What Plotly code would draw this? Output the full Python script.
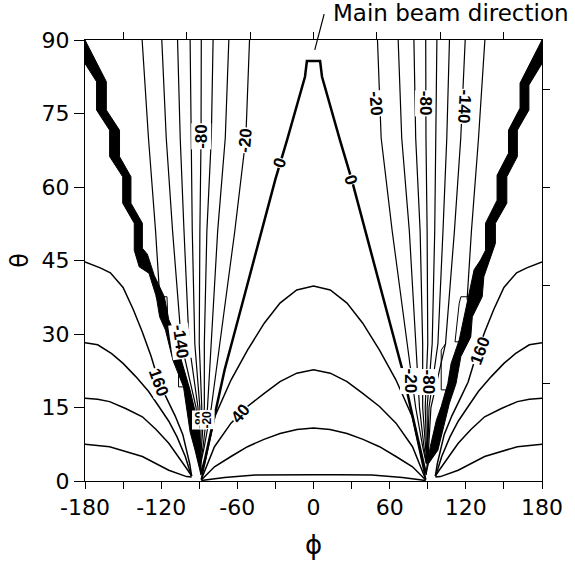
import plotly.graph_objects as go

# ---------------- contour traces (phi, theta in degrees) ----------------
# Upper fan of phase contours on the negative-phi side; the positive side mirrors it.
FAN_THETA = [90, 70, 51, 28, 15, 7, 3.6]
PHI_M20 = [-50.4, -53.3, -62.0, -73.5, -80.5, -86.0, -88.8]
PHI_M40 = [-66.7, -69.5, -75.5, -80.5, -83.5, -87.0, -89.0]
PHI_M60 = [-79.1, -80.5, -84.0, -86.0, -86.0, -88.0, -89.2]
PHI_M80 = [-88.4, -88.6, -89.5, -90.0, -88.0, -89.0, -89.4]
PHI_M100 = [-97.2, -96.5, -95.5, -93.5, -89.5, -89.8, -89.6]
PHI_M120 = [-107.1, -105.0, -102.0, -98.0, -91.0, -90.2, -89.8]
PHI_M140 = [-119.5, -116.0, -111.0, -104.0, -92.5, -90.6, -90.0]
PHI_M160 = [-135.0, -130.0, -124.4, -122.0, -121.0]
THETA_M160 = [90, 70, 51, 40, 37.0]

# The 0-degree contour (left half; mirrored for the right half)
ZERO_PHI = [-88.5, -85.6, -76.5, -70.0, -60.0, -50.0, -40.0, -30.0, -20.9, -13.2, -6.7, -5.2]
ZERO_THETA = [1.5, 4.3, 15.0, 22.7, 32.4, 42.2, 51.9, 61.6, 69.5, 76.4, 82.5, 85.7]

# Arches between the two singular points (left half; mirrored)
ARCH20_PHI = [-88.4, -83.0, -77.8, -65.0, -52.0, -38.8, -26.4, -13.2, 0.0]
ARCH20_THETA = [0.3, 6.8, 13.1, 20.6, 26.7, 32.2, 36.3, 39.0, 39.8]
ARCH40_PHI = [-88.4, -78.0, -65.0, -52.0, -38.8, -26.4, -13.2, 0.0]
ARCH40_THETA = [0.3, 7.0, 11.8, 15.2, 17.9, 20.3, 22.0, 22.7]
ARCH60_PHI = [-88.4, -78.0, -65.0, -52.0, -39.0, -26.4, -13.0, 0.0]
ARCH60_THETA = [0.2, 2.9, 5.0, 7.0, 8.5, 9.7, 10.5, 10.8]
ARCH80_PHI = [-88.4, -70.0, -46.0, -20.0, 0.0]
ARCH80_THETA = [0.1, 0.7, 1.2, 1.3, 1.3]

# Outer contours beyond |phi| = 90 (left side; mirrored)
OUT160_PHI = [-180, -168, -160, -150, -142, -135, -128, -121.8, -115, -109, -103, -99.5, -97.5, -96]
OUT160_THETA = [44.7, 43.5, 42.5, 39.5, 35.0, 30.5, 25.5, 20.2, 16.5, 13.3, 9.5, 6.0, 3.5, 1.0]
OUT140_PHI = [-180, -170, -159, -150, -140, -130, -121.8, -114, -107.5, -101, -98, -96]
OUT140_THETA = [28.2, 27.8, 26.0, 24.0, 21.3, 18.3, 15.2, 12.2, 9.0, 5.0, 2.5, 1.0]
OUT120_PHI = [-180, -170, -160.6, -148, -134.8, -124, -114, -104, -99, -96]
OUT120_THETA = [16.9, 16.7, 16.2, 14.8, 13.1, 10.5, 7.7, 4.2, 2.2, 1.0]
OUT100_PHI = [-180, -160.6, -134.8, -114, -100, -96]
OUT100_THETA = [7.5, 7.0, 5.0, 2.2, 0.9, 0.8]

# Short contour pieces running along the phase-wrap band
LHUG1_PHI = [-124.4, -115.4, -114.8, -114.1]
LHUG1_THETA = [37.6, 37.6, 33.0, 28.8]
LHUG2_PHI = [-106.3, -106.3, -99.9]
LHUG2_THETA = [26.1, 19.2, 19.2]
RHUG1_PHI = [125.1, 116.1, 114.8, 111.5, 116.1]
RHUG1_THETA = [37.6, 37.6, 36.3, 28.4, 28.4]
RHUG2_PHI = [104.0, 100.6, 100.6, 105.8]
RHUG2_THETA = [28.0, 26.7, 18.6, 18.6]

# Phase-wrap (+/-180) bands, where the contours pile up into a solid staircase
LBAND_PHI = [-180, -180, -170.9, -170.9, -160.6, -160.6, -150.3, -150.3, -141.2, -141.2,
             -137.3, -129.6, -123.8, -121.2, -116.6, -110.8, -102.4, -100.5, -97.2, -93.3,
             -90.8, -88.6,
             -88.5, -90.0, -93.5, -97.2, -104.5, -110.5, -114.1, -117.5, -125.5, -130.9,
             -134.8, -134.8, -143.8, -143.8, -152.8, -152.8, -163.2, -163.2, -180]
LBAND_THETA = [90, 85.2, 81.5, 75.7, 71.6, 66.2, 62.1, 56.7, 52.6, 47.1,
               43.7, 42.4, 37.6, 33.5, 30.8, 24.7, 19.2, 15.5, 10.0, 6.3,
               3.6, 1.2,
               5.0, 10.5, 14.5, 18.5, 25.0, 30.8, 33.0, 37.6, 42.0, 46.3,
               47.5, 52.6, 56.7, 62.1, 66.2, 71.6, 75.7, 81.5, 90]
RBAND_PHI = [180, 162.7, 162.7, 153.6, 153.6, 144.6, 144.6, 135.5, 135.5, 131.6,
             126.5, 118.7, 114.8, 108.4, 105.8, 100.6, 96.8, 92.0, 89.5, 88.6,
             90.5, 98.0, 103.2, 107.1, 112.3, 116.1, 123.9, 125.1, 132.9, 134.2,
             143.3, 143.3, 152.3, 152.3, 160.6, 160.6, 169.7, 169.7, 180, 180]
RBAND_THETA = [90, 81.2, 76.1, 71.6, 66.9, 62.4, 57.3, 52.6, 47.1, 45.1,
               43.1, 33.5, 28.8, 24.0, 19.9, 15.2, 12.4, 7.0, 3.5, 1.2,
               3.5, 6.3, 11.8, 15.9, 19.9, 25.4, 29.4, 33.5, 37.6, 41.7,
               48.5, 52.6, 56.7, 62.1, 66.2, 71.6, 75.7, 80.8, 85.2, 90]

# Contour labels
LABEL_TEXT = ["-80", "-20", "0", "0", "-20", "-80", "-140", "-140", "160", "160", "40",
              "-20", "-80", "-80", "-20"]
LABEL_PHI = [-88.4, -53.3, -26.4, 29.5, 48.9, 87.7, 118.7, -105.0, -121.8, 131.0, -57.4,
             76.0, 90.2, -90.0, -84.0]
LABEL_THETA = [70.3, 69.6, 65.0, 61.4, 77.0, 77.0, 76.4, 28.4, 20.2, 26.5, 13.8,
               20.3, 20.3, 12.5, 12.5]
LABEL_ANGLE = [-90, -85, -73, 73, 85, 90, 93, 82, 70, -70, -50, 90, 90, -90, -90]

X_TICKS = list(range(-180, 181, 30))
X_TICKTEXT = [str(v) if v % 60 == 0 else "" for v in X_TICKS]
X_TOP_TICKS = list(range(-150, 151, 50))
Y_TICKS = list(range(0, 91, 15))
Y_RIGHT_TICKS = [20, 40, 60, 80]

# beam pointer: from the beam tip up to the caption
BEAM_TIP = (1.0, 88.0)
BEAM_CAPTION_AT = (8.7, 95.6)


def mirror(phis):
    return [-p for p in phis]


fig = go.Figure()


def add_line(phis, thetas, width=1.2):
    fig.add_trace(go.Scatter(x=phis, y=thetas, mode="lines",
                             line=dict(color="black", width=width),
                             hoverinfo="skip", showlegend=False))


# wrap bands
for bp, bt in ((LBAND_PHI, LBAND_THETA), (RBAND_PHI, RBAND_THETA)):
    fig.add_trace(go.Scatter(x=bp, y=bt, mode="lines", fill="toself",
                             fillcolor="black", line=dict(color="black", width=1),
                             hoverinfo="skip", showlegend=False))

# upper fan, both sides
for ph in (PHI_M20, PHI_M40, PHI_M60, PHI_M80, PHI_M100, PHI_M120, PHI_M140):
    add_line(ph, FAN_THETA)
    add_line(mirror(ph), FAN_THETA)
add_line(PHI_M160, THETA_M160)
add_line(mirror(PHI_M160), THETA_M160)

# zero contour
add_line(ZERO_PHI + mirror(ZERO_PHI)[::-1], ZERO_THETA + ZERO_THETA[::-1], width=2.5)

# arches
for ap, at in ((ARCH20_PHI, ARCH20_THETA), (ARCH40_PHI, ARCH40_THETA),
               (ARCH60_PHI, ARCH60_THETA), (ARCH80_PHI, ARCH80_THETA)):
    add_line(ap + mirror(ap[:-1])[::-1], at + at[:-1][::-1], width=1.5)

# outer curves
for op, ot in ((OUT160_PHI, OUT160_THETA), (OUT140_PHI, OUT140_THETA),
               (OUT120_PHI, OUT120_THETA), (OUT100_PHI, OUT100_THETA)):
    add_line(op, ot, width=1.5)
    add_line(mirror(op), ot, width=1.5)

# pieces along the bands
for hp, ht in ((LHUG1_PHI, LHUG1_THETA), (LHUG2_PHI, LHUG2_THETA),
               (RHUG1_PHI, RHUG1_THETA), (RHUG2_PHI, RHUG2_THETA)):
    add_line(hp, ht, width=1.0)

# secondary axes (top and right frame ticks)
fig.add_trace(go.Scatter(x=[None], y=[None], xaxis="x2", yaxis="y2",
                         showlegend=False, hoverinfo="skip"))

annotations = []
for txt, p, t, a in zip(LABEL_TEXT, LABEL_PHI, LABEL_THETA, LABEL_ANGLE):
    small = abs(p + 87) < 5 and t < 15
    annotations.append(dict(
        x=p, y=t, xref="x", yref="y", text="<b>%s</b>" % txt, showarrow=False,
        textangle=a, bgcolor="white", borderpad=0,
        font=dict(family="Liberation Sans", size=12 if small else 17, color="black")))

# main beam pointer and caption (caption sits above the frame, so its height is
# given as a fraction of the 0..90 axis span)
annotations.append(dict(x=BEAM_TIP[0], y=BEAM_TIP[1], xref="x", yref="y",
                        ax=BEAM_CAPTION_AT[0], ay=BEAM_CAPTION_AT[1],
                        axref="x", ayref="y", text="", showarrow=True,
                        arrowhead=0, arrowwidth=1.2, arrowcolor="black"))
annotations.append(dict(x=BEAM_CAPTION_AT[0] + 5.2, y=BEAM_CAPTION_AT[1] / 90.0,
                        xref="x", yref="paper", text="Main beam direction",
                        showarrow=False, xanchor="left", yanchor="middle",
                        font=dict(family="DejaVu Sans", size=23, color="black")))

tick_font = dict(family="DejaVu Sans", size=22, color="black")

fig.update_layout(
    width=575, height=576, autosize=False,
    margin=dict(l=85, r=26, t=40, b=95),
    paper_bgcolor="white", plot_bgcolor="white",
    showlegend=False,
    annotations=annotations,
    xaxis=dict(range=[-180, 180], tickvals=X_TICKS, ticktext=X_TICKTEXT,
               ticks="outside", ticklen=7, tickwidth=1, tickcolor="black",
               showline=True, linecolor="black", linewidth=1, showgrid=False,
               zeroline=False, tickfont=tick_font,
               title=dict(text="ϕ", font=dict(family="DejaVu Sans", size=26, color="black"),
                          standoff=16)),
    yaxis=dict(range=[0, 90], tickvals=Y_TICKS, ticks="outside", ticklen=10,
               tickwidth=1, tickcolor="black", showline=True, linecolor="black",
               linewidth=1, showgrid=False, zeroline=False, tickfont=tick_font,
               title=dict(text="θ", font=dict(family="DejaVu Sans", size=24, color="black"),
                          standoff=6)),
    xaxis2=dict(range=[-180, 180], overlaying="x", side="top", tickvals=X_TOP_TICKS,
                ticks="outside", ticklen=7, tickwidth=1, tickcolor="black",
                showticklabels=False, showline=True, linecolor="black", linewidth=1,
                showgrid=False, zeroline=False),
    yaxis2=dict(range=[0, 90], overlaying="y", side="right", tickvals=Y_RIGHT_TICKS,
                ticks="outside", ticklen=7, tickwidth=1, tickcolor="black",
                showticklabels=False, showline=True, linecolor="black", linewidth=1,
                showgrid=False, zeroline=False),
)

fig.write_html("out.html")
